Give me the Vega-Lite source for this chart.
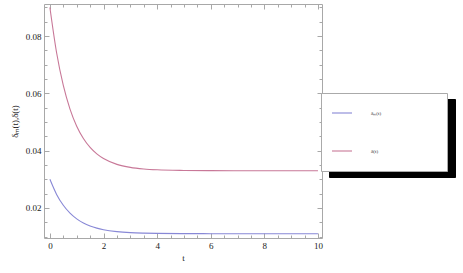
{
  "$schema": "https://vega.github.io/schema/vega-lite/v6.json",
  "width": 278,
  "height": 234,
  "autosize": {"type": "none"},
  "padding": {"left": 44, "top": 4, "right": 141, "bottom": 35},
  "background": "white",
  "config": {
    "view": {"stroke": null},
    "axis": {
      "grid": false,
      "domainColor": "#a8a8a8",
      "tickColor": "#a8a8a8",
      "labelFont": "Liberation Serif",
      "labelFontSize": 9,
      "labelColor": "#222222",
      "titleFont": "Liberation Serif",
      "titleFontSize": 9,
      "titleFontWeight": "normal",
      "titleColor": "#222222"
    }
  },
  "datasets": {
    "curves": [
      {"t": 0, "value": 0.0300, "series": "δₘ(t)", "key": "m"},
      {"t": 0.25, "value": 0.02473, "series": "δₘ(t)", "key": "m"},
      {"t": 0.5, "value": 0.02092, "series": "δₘ(t)", "key": "m"},
      {"t": 0.75, "value": 0.01817, "series": "δₘ(t)", "key": "m"},
      {"t": 1, "value": 0.01618, "series": "δₘ(t)", "key": "m"},
      {"t": 1.25, "value": 0.01474, "series": "δₘ(t)", "key": "m"},
      {"t": 1.5, "value": 0.01370, "series": "δₘ(t)", "key": "m"},
      {"t": 1.75, "value": 0.01295, "series": "δₘ(t)", "key": "m"},
      {"t": 2, "value": 0.01241, "series": "δₘ(t)", "key": "m"},
      {"t": 2.5, "value": 0.01174, "series": "δₘ(t)", "key": "m"},
      {"t": 3, "value": 0.01138, "series": "δₘ(t)", "key": "m"},
      {"t": 3.5, "value": 0.01120, "series": "δₘ(t)", "key": "m"},
      {"t": 4, "value": 0.01110, "series": "δₘ(t)", "key": "m"},
      {"t": 5, "value": 0.01103, "series": "δₘ(t)", "key": "m"},
      {"t": 6, "value": 0.01101, "series": "δₘ(t)", "key": "m"},
      {"t": 7, "value": 0.01100, "series": "δₘ(t)", "key": "m"},
      {"t": 8, "value": 0.01100, "series": "δₘ(t)", "key": "m"},
      {"t": 9, "value": 0.01100, "series": "δₘ(t)", "key": "m"},
      {"t": 10, "value": 0.01100, "series": "δₘ(t)", "key": "m"},
      {"t": 0, "value": 0.0900, "series": "δ(t)", "key": "d"},
      {"t": 0.25, "value": 0.07418, "series": "δ(t)", "key": "d"},
      {"t": 0.5, "value": 0.06275, "series": "δ(t)", "key": "d"},
      {"t": 0.75, "value": 0.05450, "series": "δ(t)", "key": "d"},
      {"t": 1, "value": 0.04853, "series": "δ(t)", "key": "d"},
      {"t": 1.25, "value": 0.04422, "series": "δ(t)", "key": "d"},
      {"t": 1.5, "value": 0.04111, "series": "δ(t)", "key": "d"},
      {"t": 1.75, "value": 0.03886, "series": "δ(t)", "key": "d"},
      {"t": 2, "value": 0.03724, "series": "δ(t)", "key": "d"},
      {"t": 2.5, "value": 0.03521, "series": "δ(t)", "key": "d"},
      {"t": 3, "value": 0.03415, "series": "δ(t)", "key": "d"},
      {"t": 3.5, "value": 0.03360, "series": "δ(t)", "key": "d"},
      {"t": 4, "value": 0.03331, "series": "δ(t)", "key": "d"},
      {"t": 5, "value": 0.03309, "series": "δ(t)", "key": "d"},
      {"t": 6, "value": 0.03302, "series": "δ(t)", "key": "d"},
      {"t": 7, "value": 0.03300, "series": "δ(t)", "key": "d"},
      {"t": 8, "value": 0.03300, "series": "δ(t)", "key": "d"},
      {"t": 9, "value": 0.03300, "series": "δ(t)", "key": "d"},
      {"t": 10, "value": 0.03300, "series": "δ(t)", "key": "d"}
    ]
  },
  "layer": [
    {
      "data": {"name": "curves"},
      "mark": {"type": "line", "strokeWidth": 1.1, "interpolate": "monotone"},
      "encoding": {
        "x": {
          "field": "t", "type": "quantitative",
          "scale": {"domain": [-0.22, 10.15], "nice": false, "zero": false},
          "axis": {"orient": "bottom", "values": [0, 2, 4, 6, 8, 10], "format": "d", "tickSize": -5, "labelPadding": 8, "title": "t", "titlePadding": 3}
        },
        "y": {
          "field": "value", "type": "quantitative",
          "scale": {"domain": [0.0095, 0.0912], "nice": false, "zero": false},
          "axis": {"orient": "left", "values": [0.02, 0.04, 0.06, 0.08], "format": ".2f", "tickSize": -5, "labelPadding": 8, "title": "δₘ(t),δ(t)", "titlePadding": 6}
        },
        "color": {
          "field": "series", "type": "nominal",
          "scale": {"domain": ["δₘ(t)", "δ(t)"], "range": ["#8888d6", "#c87898"]},
          "legend": {
            "orient": "none", "legendX": 277, "legendY": 89,
            "title": " ", "titleOrient": "right", "titlePadding": 56, "titleFontSize": 5,
            "symbolType": "stroke", "symbolSize": 400, "symbolStrokeWidth": 1.1,
            "clipHeight": 20, "rowPadding": 18, "labelOffset": 18,
            "labelFont": "Liberation Serif", "labelFontSize": 5, "labelColor": "#333333",
            "padding": 10, "fillColor": "white", "strokeColor": "#aaaaaa", "zindex": 1
          }
        }
      }
    },
    {
      "data": {"name": "curves"},
      "mark": {"type": "line", "strokeWidth": 1, "opacity": 0},
      "encoding": {
        "x": {"field": "t", "type": "quantitative", "axis": {"orient": "top", "values": [0, 2, 4, 6, 8, 10], "tickSize": -5, "labels": false, "title": null}},
        "y": {"field": "value", "type": "quantitative", "axis": {"orient": "right", "values": [0.02, 0.04, 0.06, 0.08], "tickSize": -5, "labels": false, "title": null}},
        "strokeDash": {
          "field": "key", "type": "nominal",
          "scale": {"domain": ["m", "d"], "range": [[1, 0], [1, 0]]},
          "legend": {
            "orient": "none", "legendX": 285, "legendY": 95,
            "title": " ", "titleOrient": "right", "titlePadding": 56, "titleFontSize": 5,
            "symbolType": "stroke", "symbolSize": 400, "symbolStrokeWidth": 1.1,
            "symbolStrokeColor": "black", "symbolOpacity": 1,
            "clipHeight": 20, "rowPadding": 18, "labelOffset": 18,
            "labelExpr": "datum.label == 'm' ? 'δₘ(t)' : 'δ(t)'",
            "labelFont": "Liberation Serif", "labelFontSize": 5, "labelColor": "black",
            "padding": 10, "fillColor": "black", "strokeColor": "black", "zindex": 0
          }
        }
      }
    },
    {
      "data": {"name": "curves"},
      "mark": {"type": "line", "opacity": 0},
      "encoding": {
        "x": {"field": "t", "type": "quantitative", "axis": {"orient": "bottom", "values": [0.5, 1, 1.5, 2.5, 3, 3.5, 4.5, 5, 5.5, 6.5, 7, 7.5, 8.5, 9, 9.5], "tickSize": -3, "labels": false, "domain": false, "title": null}},
        "y": {"field": "value", "type": "quantitative", "axis": {"orient": "left", "values": [0.01, 0.015, 0.025, 0.03, 0.035, 0.045, 0.05, 0.055, 0.065, 0.07, 0.075, 0.085, 0.09], "tickSize": -3, "labels": false, "domain": false, "title": null}}
      }
    },
    {
      "data": {"name": "curves"},
      "mark": {"type": "line", "opacity": 0},
      "encoding": {
        "x": {"field": "t", "type": "quantitative", "axis": {"orient": "top", "values": [0.5, 1, 1.5, 2.5, 3, 3.5, 4.5, 5, 5.5, 6.5, 7, 7.5, 8.5, 9, 9.5], "tickSize": -3, "labels": false, "domain": false, "title": null}},
        "y": {"field": "value", "type": "quantitative", "axis": {"orient": "right", "values": [0.01, 0.015, 0.025, 0.03, 0.035, 0.045, 0.05, 0.055, 0.065, 0.07, 0.075, 0.085, 0.09], "tickSize": -3, "labels": false, "domain": false, "title": null}}
      }
    }
  ],
  "resolve": {"axis": {"x": "independent", "y": "independent"}}
}
